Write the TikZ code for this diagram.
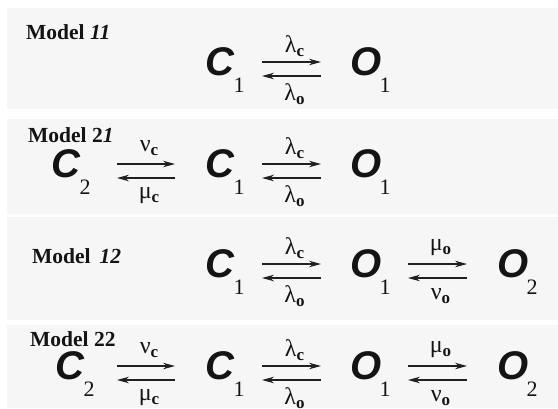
\documentclass[tikz,border=0pt]{standalone}
\usepackage{fontspec}
\setmainfont{Liberation Serif}
\newfontfamily\sansfam{Liberation Sans}
\usetikzlibrary{arrows.meta}
\definecolor{panel}{HTML}{F6F6F6}
\definecolor{ink}{HTML}{141414}
\definecolor{arrowc}{HTML}{202020}
\newcommand\ratelab[2]{#1\raisebox{-3.5pt}{\fontsize{17}{17}\selectfont\bfseries #2}}
\tikzset{
  lab/.style={anchor=west, inner sep=0pt, text=ink, font=\fontsize{21.5}{22}\selectfont\bfseries},
  state/.style={inner sep=0pt, text=ink, font=\sansfam\fontsize{40}{40}\selectfont\bfseries\itshape},
  idx/.style={inner sep=0pt, text=ink, font=\fontsize{22}{22}\selectfont},
  rate/.style={inner sep=0pt, text=ink, font=\fontsize{24}{24}\selectfont},
  fwd/.style={draw=arrowc, line width=1.2pt, -{Stealth[length=12pt,width=6.5pt]}},
}
% reversible pair of arrows: name, x left, x right, y middle, top label, bottom label
\newcommand\revpair[6]{%
  \coordinate (#1ul) at (#2,#4-7); \coordinate (#1ur) at (#3,#4-7);
  \coordinate (#1ll) at (#2,#4+7); \coordinate (#1lr) at (#3,#4+7);
  \draw[fwd] (#1ul) -- (#1ur);
  \draw[fwd] (#1lr) -- (#1ll);
  \node[rate] (#1t) at ({(#2+#3)/2+3},#4-23) {#5};
  \node[rate] (#1b) at ({(#2+#3)/2+3},#4+25) {#6};
}
% state: name, x centre, y middle, letter, index
\newcommand\statenode[5]{%
  \node[state] (#1) at (#2,#3-7) {#4};
  \node[idx] (#1i) at (#2+19,#3+16) {#5};
}
\begin{document}
\begin{tikzpicture}[x=1pt,y=-1pt]
\useasboundingbox (0,0) rectangle (558,408);
\fill[white] (0,0) rectangle (558,408);
\fill[panel] (7,8) rectangle (558,109);
\fill[panel] (7,119) rectangle (558,214);
\fill[panel] (7,217) rectangle (558,320);
\fill[panel] (7,325) rectangle (558,408);

% Model 11
\node[lab] (m11) at (26,32.5) {Model \textit{11}};
\statenode{aC1}{220}{69}{C}{1}
\revpair{aP1}{262}{321}{69}{\ratelab{λ}{c}}{\ratelab{λ}{o}}
\statenode{aO1}{366}{69}{O}{1}

% Model 21
\node[lab] (m21) at (28,135) {Model 2\textit{1}};
\statenode{bC2}{66}{171}{C}{2}
\revpair{bP0}{117}{175}{171}{\ratelab{ν}{c}}{\ratelab{μ}{c}}
\statenode{bC1}{220}{171}{C}{1}
\revpair{bP1}{262}{321}{171}{\ratelab{λ}{c}}{\ratelab{λ}{o}}
\statenode{bO1}{366}{171}{O}{1}

% Model 12
\node[lab] (m12) at (32,256) {Model\hspace{9pt}\textit{12}};
\statenode{cC1}{220}{271}{C}{1}
\revpair{cP1}{262}{321}{271}{\ratelab{λ}{c}}{\ratelab{λ}{o}}
\statenode{cO1}{366}{271}{O}{1}
\revpair{cP2}{408}{467}{271}{\ratelab{μ}{o}}{\ratelab{ν}{o}}
\statenode{cO2}{513}{271}{O}{2}

% Model 22
\node[lab] (m22) at (30,339) {Model 22};
\statenode{dC2}{70}{373}{C}{2}
\revpair{dP0}{117}{175}{373}{\ratelab{ν}{c}}{\ratelab{μ}{c}}
\statenode{dC1}{220}{373}{C}{1}
\revpair{dP1}{262}{321}{373}{\ratelab{λ}{c}}{\ratelab{λ}{o}}
\statenode{dO1}{366}{373}{O}{1}
\revpair{dP2}{408}{467}{373}{\ratelab{μ}{o}}{\ratelab{ν}{o}}
\statenode{dO2}{513}{373}{O}{2}
\end{tikzpicture}
\end{document}
